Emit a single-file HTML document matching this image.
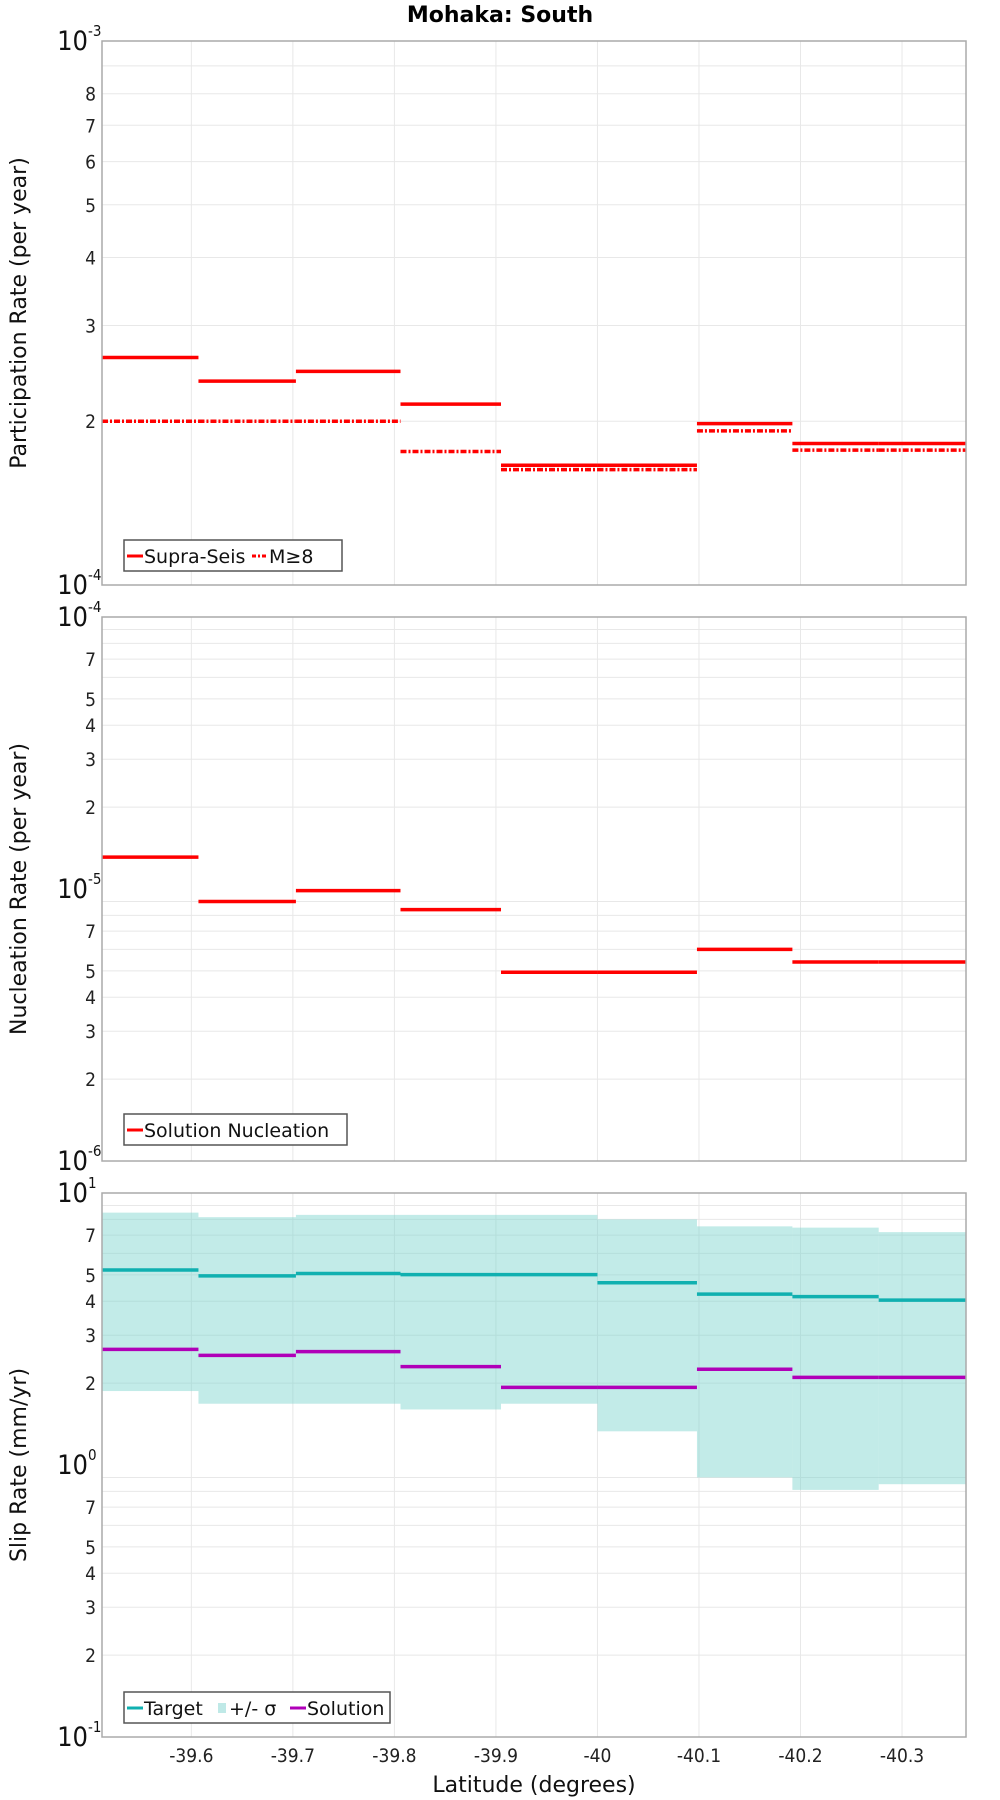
<!DOCTYPE html>
<html><head><meta charset="utf-8"><style>
body{margin:0;background:#fff}
svg{display:block}
text{font-family:"DejaVu Sans","Liberation Sans",sans-serif}
.tk{font-family:"DejaVu Sans Condensed","Liberation Sans Narrow","Liberation Sans",sans-serif;font-stretch:condensed;font-size:19px;fill:#222}
.dc{font-family:"DejaVu Sans Condensed","Liberation Sans Narrow","Liberation Sans",sans-serif;font-stretch:condensed;fill:#111}
</style></head><body>
<svg id="chart" width="1000" height="1800" viewBox="0 0 1000 1800" xmlns="http://www.w3.org/2000/svg">
<text x="500" y="22" text-anchor="middle" font-weight="bold" font-size="22">Mohaka: South</text>
<g id="g"></g>
</svg>
<script>
const binEdges=[-39.512,-39.607,-39.703,-39.806,-39.905,-40.0,-40.098,-40.192,-40.277,-40.363];
const xTicks=[-39.6,-39.7,-39.8,-39.9,-40,-40.1,-40.2,-40.3];
const xTickLabels=["-39.6","-39.7","-39.8","-39.9","-40","-40.1","-40.2","-40.3"];
const supraSeis=[2.62e-4,2.37e-4,2.47e-4,2.15e-4,1.66e-4,1.66e-4,1.98e-4,1.82e-4,1.82e-4];
const mGe8=[2.0e-4,2.0e-4,2.0e-4,1.76e-4,1.63e-4,1.63e-4,1.92e-4,1.77e-4,1.77e-4];
const nucleation=[1.31e-5,9.0e-6,9.86e-6,8.4e-6,4.94e-6,4.94e-6,6.0e-6,5.39e-6,5.39e-6];
const target=[5.21,4.96,5.06,5.01,5.01,4.68,4.25,4.16,4.04];
const sigmaUpper=[8.47,8.15,8.31,8.31,8.31,8.0,7.54,7.46,7.18];
const sigmaLower=[1.87,1.68,1.68,1.60,1.68,1.33,0.90,0.81,0.85];
const solution=[2.66,2.53,2.61,2.30,1.93,1.93,2.25,2.10,2.10];

const NS="http://www.w3.org/2000/svg";
const G=document.getElementById('g');
const L=102,R=966;
const xs=v=>L+(v-binEdges[0])/(binEdges[binEdges.length-1]-binEdges[0])*(R-L);
function mk(tag,at,parent){const e=document.createElementNS(NS,tag);for(const k in at)e.setAttribute(k,at[k]);(parent||G).appendChild(e);return e;}
function panel(top,bot,dmin,dmax,labs,title){
  const ys=v=>bot-(Math.log10(v)-dmin)/(dmax-dmin)*(bot-top);
  for(let d=dmin;d<dmax;d++)for(let m=1;m<10;m++){const v=m*Math.pow(10,d);const y=ys(v);
    if(m>1){const l=mk('line',{x1:L,x2:R,y1:y,y2:y,stroke:'#e8e8e8','stroke-width':1});
    
    
    if(labs.includes(m)){const t=mk('text',{x:96,y:y+7,'text-anchor':'end',class:'tk'});t.textContent=m;
    
    }}}
  for(let d=dmin;d<=dmax;d++){const y=ys(Math.pow(10,d));
    const t=mk('text',{x:88,y:y+9,'text-anchor':'end','font-size':27,class:'dc'});t.textContent='10';
    
    
    const s=mk('text',{x:88,y:y-5,'font-size':15,class:'dc'});s.textContent=String(d);
    
    }
  xTicks.forEach(v=>{const l=mk('line',{x1:xs(v),x2:xs(v),y1:top,y2:bot,stroke:'#e8e8e8','stroke-width':1});
    
    });
  const t=mk('text',{transform:`translate(26,${(top+bot)/2}) rotate(-90)`,'text-anchor':'middle','font-size':22,fill:'#111'});t.textContent=title;
  
  
  return ys;
}
function steps(vals,ys,color,name,dash){
  vals.forEach((v,i)=>{const a={x1:xs(binEdges[i]),x2:xs(binEdges[i+1]),y1:ys(v),y2:ys(v),stroke:color,'stroke-width':3.5};
    if(dash)a['stroke-dasharray']='6,2,2,2';
    const l=mk('line',a);
    
    });
}
function frame(top,bot){const r=mk('rect',{x:L,y:top,width:R-L,height:bot-top,fill:'none',stroke:'#aaa','stroke-width':1.5});
  
  }
function legend(x,y,w,items){
  const b=mk('rect',{x:x,y:y,width:w,height:31,fill:'#fff',stroke:'#555','stroke-width':1.5});
  
  
  let cx=x+3;
  items.forEach(it=>{
    if(it.fill){const r=mk('rect',{x:cx,y:y+11,width:8,height:10,fill:it.c});cx+=11;}
    else{const a={x1:cx,x2:cx+16,y1:y+16,y2:y+16,stroke:it.c,'stroke-width':3};if(it.d)a['stroke-dasharray']='4,2,2,2';const l=mk('line',a);cx+=17;}
    const t=mk('text',{x:cx,y:y+23,'font-size':19,fill:'#111'});t.textContent=it.t;
    
    
    cx+=it.w;});
}
// panel 1
let ys=panel(41,585,-4,-3,[2,3,4,5,6,7,8],'Participation Rate (per year)');
steps(mGe8,ys,'#f00','m-ge-8-line',true);
steps(supraSeis,ys,'#f00','supra-seis-line',false);
frame(41,585);
legend(124,540,218,[{c:'#f00',t:'Supra-Seis',w:108},{c:'#f00',t:'M≥8',d:1,w:50}]);
// panel 2
ys=panel(617,1161,-6,-4,[2,3,4,5,7],'Nucleation Rate (per year)');
steps(nucleation,ys,'#f00','nucleation-line',false);
frame(617,1161);
legend(124,1114,223,[{c:'#f00',t:'Solution Nucleation',w:200}]);
// panel 3
ys=panel(1193,1737,-1,1,[2,3,4,5,7],'Slip Rate (mm/yr)');
sigmaUpper.forEach((u,i)=>{const x1=xs(binEdges[i]),x2=xs(binEdges[i+1]);
  const r=mk('rect',{x:x1,y:ys(u),width:x2-x1,height:ys(sigmaLower[i])-ys(u),fill:'rgba(120,210,205,0.45)'});
  
  });
steps(target,ys,'#10b0b0','target-line',false);
steps(solution,ys,'#b000b8','solution-line',false);
frame(1193,1737);
legend(124,1692,266,[{c:'#10b0b0',t:'Target',w:74},{c:'#bfe9e7',t:'+/- σ',fill:1,w:61},{c:'#b000b8',t:'Solution',w:90}]);
// x axis
xTicks.forEach((v,i)=>{const t=mk('text',{x:xs(v),y:1762,'text-anchor':'middle',class:'tk','font-size':20});t.textContent=xTickLabels[i];
  
  });
const xt=mk('text',{x:534,y:1792,'text-anchor':'middle','font-size':22,fill:'#111'});xt.textContent='Latitude (degrees)';


</script>
</body></html>
